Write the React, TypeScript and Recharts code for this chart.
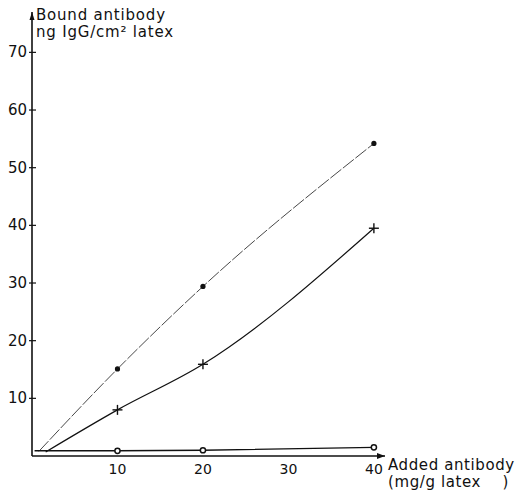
import React from "react";
import { LineChart, Line, XAxis, YAxis, ReferenceDot } from "recharts";

// added antibody (mg/g latex) vs bound antibody (ng IgG/cm2 latex)
const dotX = [0.8, 10, 20, 40];
const dotY = [0.8, 15.1, 29.4, 54.2];
const crossX = [1.6, 10, 20, 40];
const crossY = [0.7, 8.0, 15.9, 39.5];
const ringX = [0.3, 10, 20, 40];
const ringY = [0.9, 0.9, 1.0, 1.5];

const xTicks = [10, 20, 30, 40];
const yTicks = [10, 20, 30, 40, 50, 60, 70];

const X_MAX = 41.3;
const Y_MAX = 77;

const toRows = (xs: number[], ys: number[]) => xs.map((x, i) => ({ x, y: ys[i] }));

const INK = "#111";
const FONT = "'DejaVu Sans', sans-serif";

const FilledDot = (p: any) =>
  p.index === 0 ? <g key={p.index} /> : <circle key={p.index} cx={p.cx} cy={p.cy} r={2.6} fill={INK} />;

const CrossDot = (p: any) =>
  p.index === 0 ? (
    <g key={p.index} />
  ) : (
    <g key={p.index} stroke={INK} strokeWidth={1.4}>
      <line x1={p.cx - 5} y1={p.cy} x2={p.cx + 5} y2={p.cy} />
      <line x1={p.cx} y1={p.cy - 5} x2={p.cx} y2={p.cy + 5} />
    </g>
  );

const RingDot = (p: any) =>
  p.index === 0 ? (
    <g key={p.index} />
  ) : (
    <circle key={p.index} cx={p.cx} cy={p.cy} r={2.6} fill="#fff" stroke={INK} strokeWidth={1.5} />
  );

const YTick = (p: any) => {
  const { x, y, payload } = p;
  return (
    <g>
      <line x1={x + 1} y1={y} x2={x + 8} y2={y} stroke={INK} strokeWidth={1.2} />
      <text x={x - 1} y={y} dy={5} textAnchor="end" fontSize={15} fontFamily={FONT} fill={INK}>
        {payload.value}
      </text>
    </g>
  );
};

const ArrowRight = (p: any) => (
  <path d={`M${p.cx},${p.cy} l-8,-3 l0,6 z`} fill={INK} />
);
const ArrowUp = (p: any) => (
  <path d={`M${p.cx},${p.cy} l-2.5,8 l5,0 z`} fill={INK} />
);

export default function App() {
  return (
    <div style={{ position: "relative", width: 516, height: 487, background: "#fff", fontFamily: FONT, color: INK }}>
      <LineChart width={516} height={487} margin={{ top: 4, right: 139, bottom: 9, left: 0 }}>
        <XAxis
          type="number"
          dataKey="x"
          domain={[0, X_MAX]}
          ticks={xTicks}
          allowDataOverflow
          height={30}
          tickLine={false}
          axisLine={{ stroke: INK, strokeWidth: 1.6 }}
          tick={{ fontSize: 14, fontFamily: FONT, fill: INK }}
          tickMargin={2}
        />
        <YAxis
          type="number"
          dataKey="y"
          domain={[0, Y_MAX]}
          ticks={yTicks}
          allowDataOverflow
          width={24}
          tickLine={false}
          tickSize={0}
          tickMargin={4}
          axisLine={{ stroke: INK, strokeWidth: 1.6 }}
          tick={<YTick />}
        />
        <Line
          data={toRows(dotX, dotY)}
          dataKey="y"
          type="monotone"
          stroke="#333"
          strokeWidth={0.9}
          strokeDasharray="14 2"
          dot={FilledDot}
          activeDot={false}
          isAnimationActive={false}
        />
        <Line
          data={toRows(crossX, crossY)}
          dataKey="y"
          type="monotone"
          stroke={INK}
          strokeWidth={1.2}
          dot={CrossDot}
          activeDot={false}
          isAnimationActive={false}
        />
        <Line
          data={toRows(ringX, ringY)}
          dataKey="y"
          type="linear"
          stroke={INK}
          strokeWidth={1.4}
          dot={RingDot}
          activeDot={false}
          isAnimationActive={false}
        />
        <ReferenceDot x={X_MAX} y={0} ifOverflow="visible" shape={<ArrowRight />} />
        <ReferenceDot x={0} y={Y_MAX} ifOverflow="visible" shape={<ArrowUp />} />
      </LineChart>
      <div style={{ position: "absolute", left: 28, top: -1, fontSize: 15, lineHeight: "17px", letterSpacing: 0.8, whiteSpace: "nowrap" }}>
        <div>Bound antibody</div>
        <div>ng IgG/cm² latex</div>
      </div>
      <div style={{ position: "absolute", left: 380, top: 449, fontSize: 15, lineHeight: "17px", letterSpacing: 0.6, whiteSpace: "nowrap" }}>
        <div>Added antibody</div>
        <div>(mg/g latex&nbsp;&nbsp;&nbsp;&nbsp;)</div>
      </div>
    </div>
  );
}
